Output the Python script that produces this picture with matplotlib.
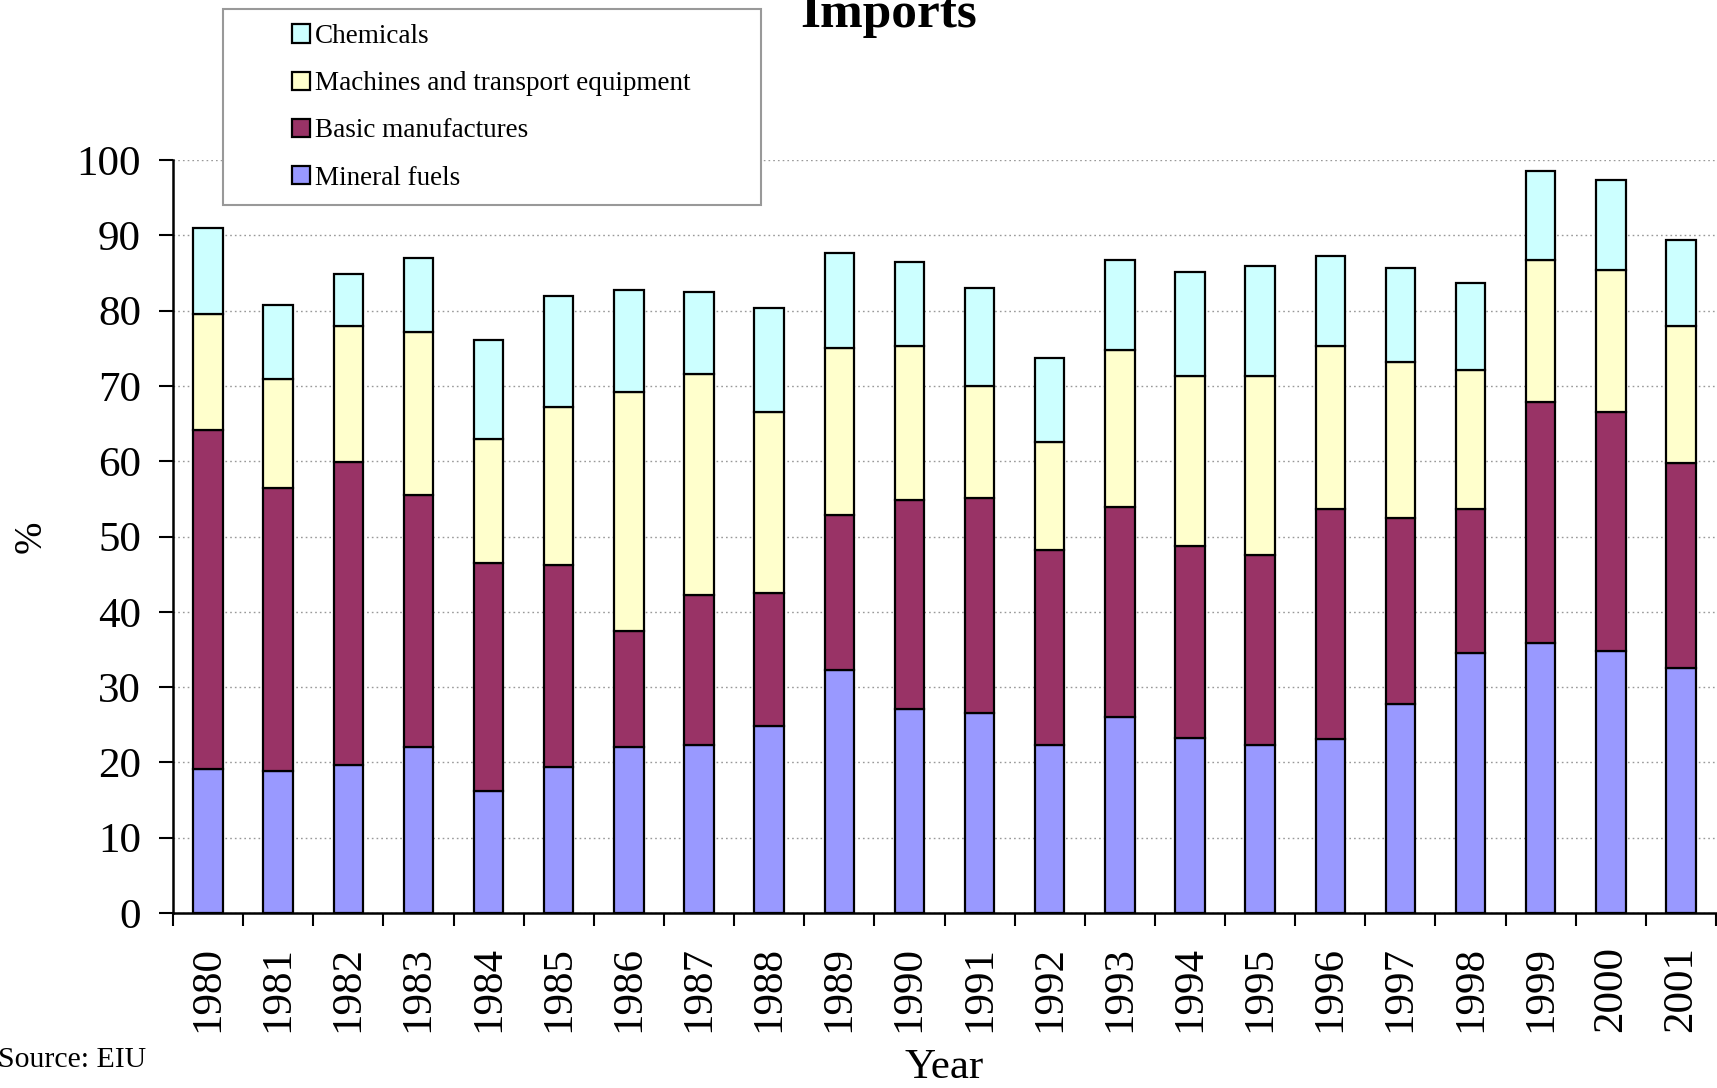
import matplotlib
matplotlib.use("Agg")
import matplotlib.pyplot as plt
from matplotlib.patches import Patch, Rectangle
import numpy as np

years = [str(y) for y in range(1980, 2002)]

# Share of total imports by product group, % (stacked bottom to top)
mineral_fuels = [19.1, 18.8, 19.6, 22.0, 16.2, 19.4, 22.0, 22.3, 24.9, 32.3, 27.1,
                 26.5, 22.3, 26.0, 23.3, 22.3, 23.1, 27.8, 34.5, 35.8, 34.8, 32.6]
basic_manufactures = [45.1, 37.7, 40.3, 33.5, 30.3, 26.8, 15.4, 19.9, 17.6, 20.5, 27.8,
                      28.6, 25.9, 27.9, 25.5, 25.2, 30.6, 24.7, 19.2, 32.1, 31.8, 27.1]
machines_transport = [15.4, 14.4, 18.0, 21.7, 16.4, 21.0, 31.8, 29.4, 24.1, 22.2, 20.4,
                      14.9, 14.4, 20.9, 22.5, 23.8, 21.6, 20.7, 18.4, 18.8, 18.8, 18.2]
chemicals = [11.4, 9.8, 6.9, 9.8, 13.2, 14.8, 13.5, 10.9, 13.8, 12.6, 11.2,
             13.0, 11.1, 11.9, 13.8, 14.6, 12.0, 12.5, 11.5, 11.9, 12.0, 11.5]

series = [
    ("Mineral fuels", mineral_fuels, "#9999FF"),
    ("Basic manufactures", basic_manufactures, "#993366"),
    ("Machines and transport equipment", machines_transport, "#FFFFCC"),
    ("Chemicals", chemicals, "#CCFFFF"),
]

plt.rcParams["font.family"] = ["Liberation Serif", "DejaVu Serif"]

W, H = 1717, 1088
fig = plt.figure(figsize=(W / 100, H / 100), dpi=100)
ax = fig.add_axes([173 / W, 1 - 913 / H, (1716 - 173) / W, (913 - 160) / H])

x = np.arange(len(years))
bottom = np.zeros(len(years))
handles = {}
for name, vals, color in series:
    vals = np.array(vals)
    ax.bar(x, vals, width=0.42, bottom=bottom, color=color,
           edgecolor="black", linewidth=1.6, zorder=3)
    bottom += vals
    handles[name] = Patch(facecolor=color, edgecolor="black", linewidth=1.6)

ax.set_xlim(-0.5, len(years) - 0.5)
ax.set_ylim(0, 100)

# y axis
ax.set_yticks(np.arange(0, 101, 10))
ax.tick_params(axis="y", direction="out", length=10, width=1.5, pad=13, labelsize=31)
ax.yaxis.grid(True, linestyle=(0, (1.2, 2.2)), color="#999999", linewidth=1.0, zorder=0)
ax.set_axisbelow(True)

# x axis: tick marks between categories, labels at category centres
ax.set_xticks(np.arange(-0.5, len(years), 1.0))
ax.set_xticklabels([])
ax.tick_params(axis="x", which="major", direction="out", length=9, width=1.5)
ax.set_xticks(x, minor=True)
ax.set_xticklabels(years, minor=True, rotation=90, fontsize=31)
ax.tick_params(axis="x", which="minor", length=0, pad=24)

for side in ("top", "right"):
    ax.spines[side].set_visible(False)
for side in ("left", "bottom"):
    ax.spines[side].set_linewidth(1.8)

# Legend box and entries
fig.patches.append(Rectangle((223 / W, 1 - 205 / H), (761 - 223) / W, (205 - 9) / H,
                             transform=fig.transFigure, facecolor="white",
                             edgecolor="#999999", linewidth=1.5, zorder=5))
order = ["Chemicals", "Machines and transport equipment", "Basic manufactures", "Mineral fuels"]
leg = fig.legend([handles[n] for n in order], order, loc="upper left",
                 bbox_to_anchor=(292 / W, 1 - 24 / H), frameon=False, fontsize=19.5,
                 handlelength=0.65, handleheight=0.65, handletextpad=0.2,
                 labelspacing=0.82, borderpad=0, borderaxespad=0)
leg.set_zorder(6)

fig.text(889 / W, 1 - 27 / H, "Imports", ha="center", va="baseline",
         fontsize=37, fontweight="bold")
fig.text(31 / W, 1 - 537 / H, "%", ha="center", va="center", rotation=90, fontsize=28)
fig.text(944 / W, 1 - 1068 / H, "Year", ha="center", va="center", fontsize=31)
fig.text(-2 / W, 1 - 1060 / H, "Source: EIU", ha="left", va="center", fontsize=21.5)

fig.savefig("out.png", dpi=100)
